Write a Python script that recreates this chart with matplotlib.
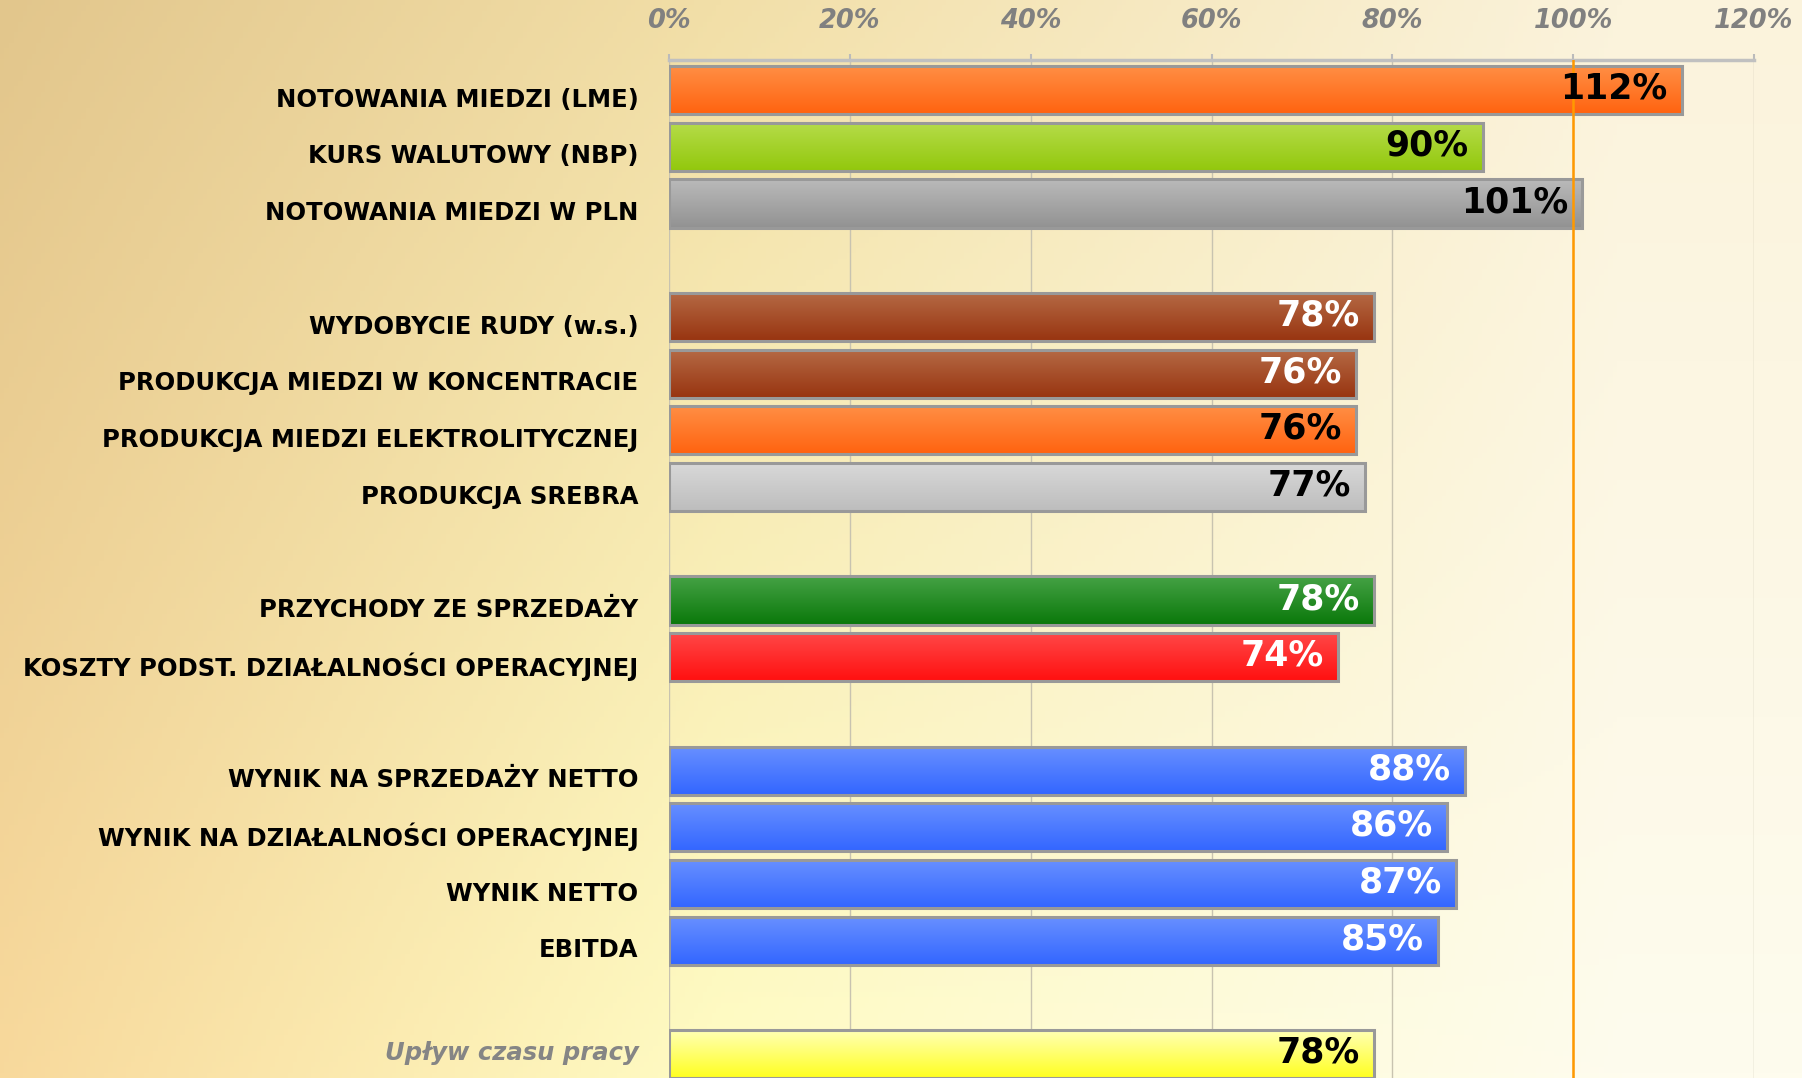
import numpy as np
import matplotlib
matplotlib.use("Agg")
import matplotlib.pyplot as plt
from matplotlib.colors import to_rgb
from matplotlib.patches import Rectangle

# categories (top to bottom) with their slot positions; gaps separate the groups
labels = ["NOTOWANIA MIEDZI (LME)", "KURS WALUTOWY (NBP)", "NOTOWANIA MIEDZI W PLN",
          "WYDOBYCIE RUDY (w.s.)", "PRODUKCJA MIEDZI W KONCENTRACIE",
          "PRODUKCJA MIEDZI ELEKTROLITYCZNEJ", "PRODUKCJA SREBRA",
          "PRZYCHODY ZE SPRZEDAŻY", "KOSZTY PODST. DZIAŁALNOŚCI OPERACYJNEJ",
          "WYNIK NA SPRZEDAŻY NETTO", "WYNIK NA DZIAŁALNOŚCI OPERACYJNEJ",
          "WYNIK NETTO", "EBITDA", "Upływ czasu pracy"]
slots = [0, 1, 2, 4, 5, 6, 7, 9, 10, 12, 13, 14, 15, 17]
values = [112, 90, 101, 78, 76, 76, 77, 78, 74, 88, 86, 87, 85, 78]
value_text = ["112%", "90%", "101%", "78%", "76%", "76%", "77%",
              "78%", "74%", "88%", "86%", "87%", "85%", "78%"]

# gradient (top, bottom) colours per bar
orange = ("#FF8F45", "#FF6310")
lime = ("#B6DC4A", "#92C80C")
grey = ("#BABABA", "#929292")
brown = ("#B56A45", "#983410")
silver = ("#D9D9D9", "#BDBDBD")
dgreen = ("#45A245", "#0A780A")
red = ("#FF4848", "#FF1010")
blue = ("#6890FF", "#3366FF")
yellow = ("#FFFFB8", "#FFFF20")
bar_colors = [orange, lime, grey, brown, brown, orange, silver,
              dgreen, red, blue, blue, blue, blue, yellow]
text_colors = ["black", "black", "black", "white", "white", "black", "black",
               "white", "white", "white", "white", "white", "white", "black"]

xticks = [0, 20, 40, 60, 80, 100, 120]

fig = plt.figure(figsize=(18.02, 10.78), dpi=100)

# warm background: tan on the left fading to cream on the right
bg = fig.add_axes([0, 0, 1, 1], zorder=-10)
bg.axis("off")
h, w = 200, 400
yy = np.linspace(0, 1, h)[:, None, None]
xx = np.linspace(0, 1, w)[None, :, None]
left_col = (1 - yy) * np.array(to_rgb("#E2C68C")) + yy * np.array(to_rgb("#F8D99C"))
mid_col = (1 - yy) * np.array(to_rgb("#F2DFA8")) + yy * np.array(to_rgb("#FFFCC4"))
right_col = (1 - yy) * np.array(to_rgb("#FBF3DC")) + yy * np.array(to_rgb("#FEFCEE"))
t1 = np.clip(xx / 0.4, 0, 1)
t2 = np.clip((xx - 0.4) / 0.5, 0, 1)
img = np.where(xx < 0.4, left_col * (1 - t1) + mid_col * t1,
               mid_col * (1 - t2) + right_col * t2)
bg.imshow(img, aspect="auto", extent=(0, 1, 0, 1), origin="upper")
bg.set_xlim(0, 1)
bg.set_ylim(0, 1)

ax = fig.add_axes([669 / 1802, 0, 1085 / 1802, 1 - 60 / 1078])
ax.patch.set_alpha(0)
bar_h = 0.85
ylim = (17.42, -0.53)

bars = ax.barh(slots, values, height=bar_h, color="none",
               edgecolor="#999999", linewidth=2.2, zorder=4)
for b, (c_top, c_bot), tc, txt in zip(bars, bar_colors, text_colors, value_text):
    x0, y0 = b.get_x(), b.get_y()
    bw, bh = b.get_width(), b.get_height()
    g = np.linspace(0, 1, 64)[:, None, None]
    grad = (1 - g) * np.array(to_rgb(c_top)) + g * np.array(to_rgb(c_bot))
    im = ax.imshow(grad, extent=(x0, x0 + bw, y0 + bh, y0), origin="upper",
                   aspect="auto", zorder=3, interpolation="bilinear")
    im.set_clip_path(Rectangle((x0, y0), bw, bh, transform=ax.transData))
    ax.annotate(txt, (x0 + bw, y0 + bh / 2), xytext=(-10, 1),
                textcoords="offset points", ha="right", va="center",
                fontsize=25, fontweight="bold", color=tc, zorder=6)

for lab, s in zip(labels, slots):
    italic = lab.startswith("Upływ")
    ax.annotate(lab, (0, s), xytext=(-22, 1 if italic else -7),
                textcoords="offset points",
                ha="right", va="center", fontsize=17.5, fontweight="bold",
                style="italic" if italic else "normal",
                color="#858585" if italic else "black", annotation_clip=False)

ax.axvline(100, color="#FF9900", linewidth=1.8, zorder=5)

ax.set_xlim(0, 120)
ax.set_ylim(*ylim)
ax.set_xticks(xticks)
ax.set_xticklabels([f"{v}%" for v in xticks])
ax.xaxis.tick_top()
ax.tick_params(axis="x", direction="out", length=4, width=1.5, color="#BBBBBB",
               pad=15, labelsize=18.5, labelcolor="#808080")
for t in ax.get_xticklabels():
    t.set_fontweight("bold")
    t.set_style("italic")
ax.set_yticks([])
ax.grid(axis="x", color="#C8C3B0", linewidth=1.0, zorder=1)
ax.set_axisbelow(True)
for side in ["right", "bottom", "left"]:
    ax.spines[side].set_visible(False)
ax.spines["top"].set_color("#C0C0C0")
ax.spines["top"].set_linewidth(2.5)

fig.savefig("out.png", dpi=100)
